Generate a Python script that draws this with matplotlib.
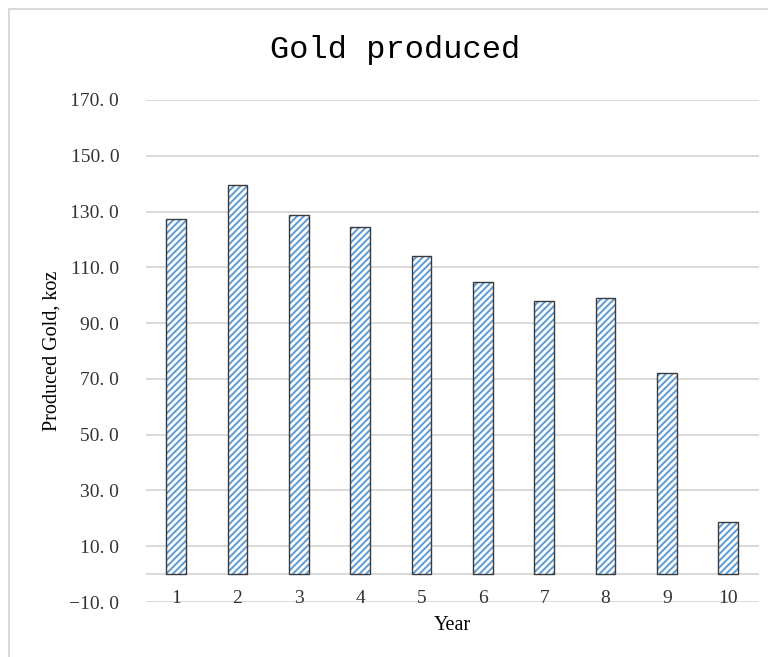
import matplotlib.pyplot as plt
from matplotlib.patches import Rectangle

plt.rcParams['hatch.linewidth'] = 1.4

years = [1, 2, 3, 4, 5, 6, 7, 8, 9, 10]
gold_koz = [127.5, 139.7, 128.6, 124.4, 114.0, 104.7, 98.0, 99.0, 72.2, 18.6]
yticks = [-10, 10, 30, 50, 70, 90, 110, 130, 150, 170]

fig = plt.figure(figsize=(7.68, 6.57), dpi=100)
ax = fig.add_axes([0.1895, 0.0837, 0.7985, 0.7641])

# chart frame (only top and left edges show)
fig.patches.append(Rectangle((0.012, -0.1), 1.2, 1.086, transform=fig.transFigure,
                             fill=False, edgecolor='#d9d9d9', linewidth=1.5))

# gridlines and the zero line
for y in yticks:
    ax.axhline(y, color='#d9d9d9', linewidth=1.4, zorder=0)
ax.axhline(0, color='#d9d9d9', linewidth=1.4, zorder=0)

# hatched bars, then a dark outline over them
ax.bar(years, gold_koz, width=0.32, color='white', edgecolor='#5b9bd5',
       hatch='/////', linewidth=0, zorder=2)
ax.bar(years, gold_koz, width=0.32, fill=False, edgecolor='#3a3a3a',
       linewidth=1.0, zorder=3)

ax.set_xlim(0.5, 10.5)
ax.set_ylim(-10, 170)
ax.set_yticks(yticks)
ax.set_yticklabels([('%.1f' % v).replace('.', '. ').replace('-', '\u2212') for v in yticks],
                   family='Liberation Serif', fontsize=14, color='#333333')
ax.set_xticks(years)
ax.set_xticklabels([str(y) for y in years], family='Liberation Serif', fontsize=14,
                   color='#333333')
ax.tick_params(axis='both', length=0)
ax.tick_params(axis='y', pad=19)
ax.tick_params(axis='x', pad=-9)
for s in ax.spines.values():
    s.set_visible(False)

ax.set_ylabel('Produced Gold, koz', family='Liberation Serif', fontsize=14.5)
ax.yaxis.set_label_coords(-0.137, 0.5)
ax.set_xlabel('Year', family='Liberation Serif', fontsize=14.5)
ax.xaxis.set_label_coords(0.5, -0.028)

fig.text(0.514, 0.924, 'Gold produced', family='Liberation Mono', fontsize=23,
         ha='center', va='center')

fig.savefig('out.png', dpi=100)
